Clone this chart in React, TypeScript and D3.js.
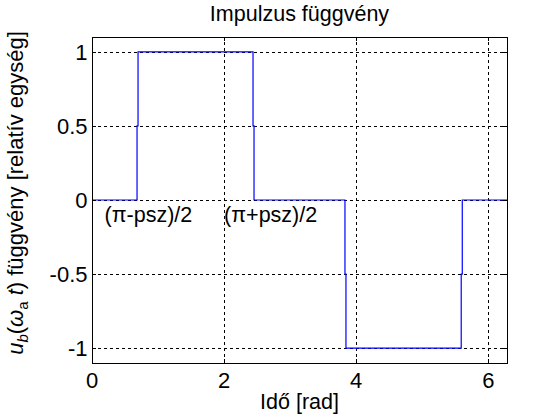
import React from 'react';
import * as d3 from 'd3';

// step breakpoints of the pulse (x in rad) and the value held after each one
const stepX = [0, 0.682, 0.697, 2.438, 2.453, 3.830, 3.845, 5.590, 5.606];
const stepY = [0, 0.5, 1, 0.5, 0, -0.5, -1, -0.5, 0];
const xEnd = 2 * Math.PI;

const xTicks = [0, 2, 4, 6];
const yTicks = [-1, -0.5, 0, 0.5, 1];

const notes = [
    { x: 0.19, y: -0.15, text: '(π-psz)/2' },
    { x: 2.0, y: -0.15, text: '(π+psz)/2' },
];

const W = 560;
const H = 419;
const FONT = "Arial, 'Liberation Sans', Helvetica, sans-serif";

const App: React.FC = () => {
    const x = d3.scaleLinear().domain([0, xEnd]).range([92, 507]);
    const y = d3.scaleLinear().domain([-1.1, 1.1]).range([363, 37]);
    const [x0, x1] = x.range();
    const [y0, y1] = y.range();

    const pts: [number, number][] = stepX.map((v, i) => [v, stepY[i]]);
    pts.push([xEnd, 0]);
    const line = d3.line<[number, number]>()
        .x(d => x(d[0]))
        .y(d => y(d[1]))
        .curve(d3.curveStepAfter);

    const tickLen = 4;

    return (
        <svg width={W} height={H} style={{ position: 'absolute', left: 0, top: 0, background: '#fff' }}
            fontFamily={FONT}>
            <rect x={0} y={0} width={W} height={H} fill="#fff" />
            <g shapeRendering="crispEdges">
                {/* grid */}
                {xTicks.map(t => (
                    <line key={'gx' + t} x1={x(t) + 0.5} x2={x(t) + 0.5} y1={y0} y2={y1}
                        stroke="#000" strokeDasharray="3,3" />
                ))}
                {yTicks.map(t => (
                    <line key={'gy' + t} x1={x0} x2={x1} y1={Math.round(y(t)) + 0.5} y2={Math.round(y(t)) + 0.5}
                        stroke="#000" strokeDasharray="3,3" />
                ))}
            </g>

            <path d={line(pts) || ''} fill="none" stroke="#0000ff" strokeWidth={1.2} />

            <g shapeRendering="crispEdges" stroke="#000">
                <rect x={x0 + 0.5} y={y1 + 0.5} width={x1 - x0} height={y0 - y1} fill="none" />
                {xTicks.map(t => (
                    <g key={'tx' + t}>
                        <line x1={x(t) + 0.5} x2={x(t) + 0.5} y1={y0} y2={y0 - tickLen} />
                        <line x1={x(t) + 0.5} x2={x(t) + 0.5} y1={y1} y2={y1 + tickLen} />
                    </g>
                ))}
                {yTicks.map(t => (
                    <g key={'ty' + t}>
                        <line x1={x0} x2={x0 + tickLen} y1={Math.round(y(t)) + 0.5} y2={Math.round(y(t)) + 0.5} />
                        <line x1={x1} x2={x1 - tickLen} y1={Math.round(y(t)) + 0.5} y2={Math.round(y(t)) + 0.5} />
                    </g>
                ))}
            </g>

            {/* tick labels */}
            {xTicks.map(t => (
                <text key={'lx' + t} x={x(t)} y={387.5} textAnchor="middle" fontSize={22}>{t}</text>
            ))}
            {yTicks.map(t => (
                <text key={'ly' + t} x={87.5} y={y(t) + 8} textAnchor="end" fontSize={22}>{t}</text>
            ))}

            {notes.map(n => (
                <text key={n.text} x={x(n.x)} y={y(n.y)} fontSize={21.5}>{n.text}</text>
            ))}

            <text x={(x0 + x1) / 2} y={21} textAnchor="middle" fontSize={21.5}>Impulzus függvény</text>
            <text x={(x0 + x1) / 2} y={409} textAnchor="middle" fontSize={21.5}>Idő [rad]</text>

            <text transform="translate(23,193) rotate(-90)" textAnchor="middle" fontSize={22}>
                <tspan fontStyle="italic">u</tspan>
                <tspan fontSize={15} dy={5} fontStyle="italic">b</tspan>
                <tspan dy={-5}>(</tspan>
                <tspan fontStyle="italic">ω</tspan>
                <tspan fontSize={15} dy={5}>a</tspan>
                <tspan dy={-5} fontStyle="italic"> t</tspan>
                <tspan>) függvény [relatív egység]</tspan>
            </text>
        </svg>
    );
};

export default App;
